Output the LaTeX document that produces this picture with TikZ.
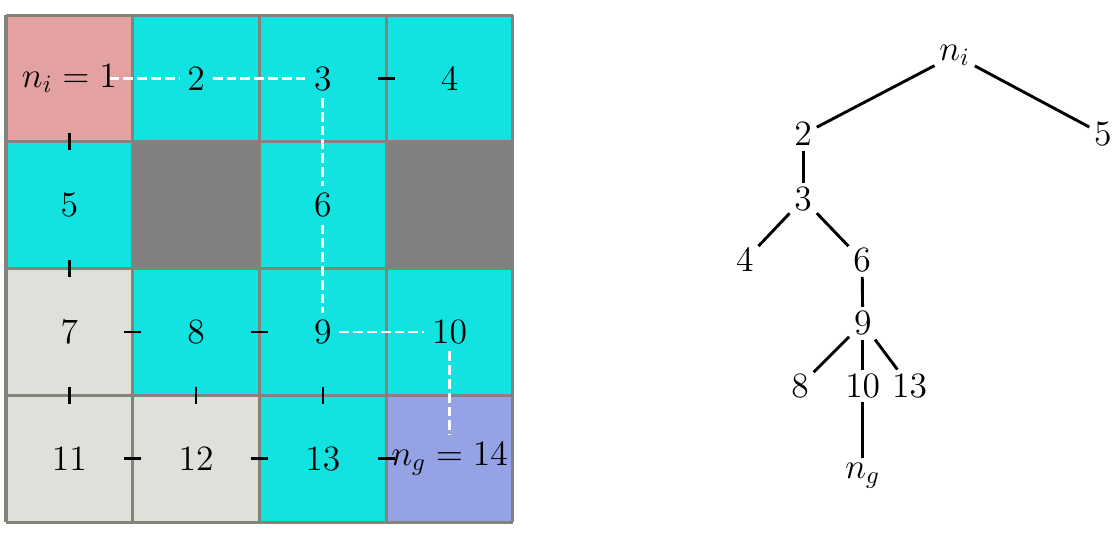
\RequirePackage{fix-cm}
\documentclass[tikz,border=0pt]{standalone}
\definecolor{startcol}{HTML}{E4A1A2}
\definecolor{freecol}{HTML}{12E3E0}
\definecolor{wallcol}{HTML}{808080}
\definecolor{seencol}{HTML}{E0E0DB}
\definecolor{goalcol}{HTML}{95A2E6}
\definecolor{gridcol}{HTML}{838379}
\begin{document}
\begin{tikzpicture}[font=\fontsize{16}{19}\selectfont,
    tick/.style={line width=1.2pt, shorten <=0.865cm, shorten >=0.865cm},
    route/.style={white, line width=1.3pt, dash pattern=on 4.4pt off 1.8pt},
    tnode/.style={inner sep=2pt},
    tedge/.style={line width=1.3pt}]
    \useasboundingbox (-0.095,-0.2) rectangle (17.58,8.24);
    % cells
    \foreach \x/\y/\c in {0/6/startcol,2/6/freecol,4/6/freecol,6/6/freecol,
        0/4/freecol,2/4/wallcol,4/4/freecol,6/4/wallcol,
        0/2/seencol,2/2/freecol,4/2/freecol,6/2/freecol,
        0/0/seencol,2/0/seencol,4/0/freecol,6/0/goalcol}
        \fill[\c] (\x,\y) rectangle ++(2,2);
    \draw[gridcol, line width=1.4pt, step=2] (0,0) grid (8,8);
    % labels
    \node (c1) at (1,7) {$n_i=1$};\node (c2) at (3,7) {$2$};\node (c3) at (5,7) {$3$};\node (c4) at (7,7) {$4$};
    \node (c5) at (1,5) {$5$};\node (c6) at (5,5) {$6$};
    \node (c7) at (1,3) {$7$};\node (c8) at (3,3) {$8$};\node (c9) at (5,3) {$9$};\node (c10) at (7,3) {$10$};
    \node (c11) at (1,1) {$11$};\node (c12) at (3,1) {$12$};\node (c13) at (5,1) {$13$};\node (c14) at (7,1) {$n_g=14$};
    % ticks
    \foreach \a/\b in {c1/c5,c3/c4,c5/c7,c7/c8,c8/c9,c7/c11,c8/c12,c9/c13,c11/c12,c12/c13,c13/c14}
        \draw[tick] (\a.center) -- (\b.center);
    % path
    \draw[route, shorten <=-0.24cm] (c1) -- (c2);
    \foreach \a/\b in {c2/c3,c3/c6,c6/c9,c9/c10,c10/c14}
        \draw[route] (\a) -- (\b);
    % tree
    \node[tnode] (ni) at (14.97,7.37) {$n_i$};
    \node[tnode] (t2) at (12.58,6.12) {$2$};\node[tnode] (t5) at (17.31,6.12) {$5$};
    \node[tnode] (t3) at (12.58,5.10) {$3$};
    \node[tnode] (t4) at (11.66,4.13) {$4$};\node[tnode] (t6) at (13.51,4.13) {$6$};
    \node[tnode] (t9) at (13.52,3.14) {$9$};
    \node[tnode] (t8) at (12.53,2.15) {$8$};\node[tnode] (t10) at (13.52,2.15) {$10$};\node[tnode] (t13) at (14.26,2.15) {$13$};
    \node[tnode] (ng) at (13.52,0.73) {$n_g$};
    \foreach \a/\b in {ni/t2,ni/t5,t2/t3,t3/t4,t3/t6,t6/t9,t9/t8,t9/t10,t9/t13,t10/ng}
        \draw[tedge] (\a) -- (\b);
\end{tikzpicture}
\end{document}
